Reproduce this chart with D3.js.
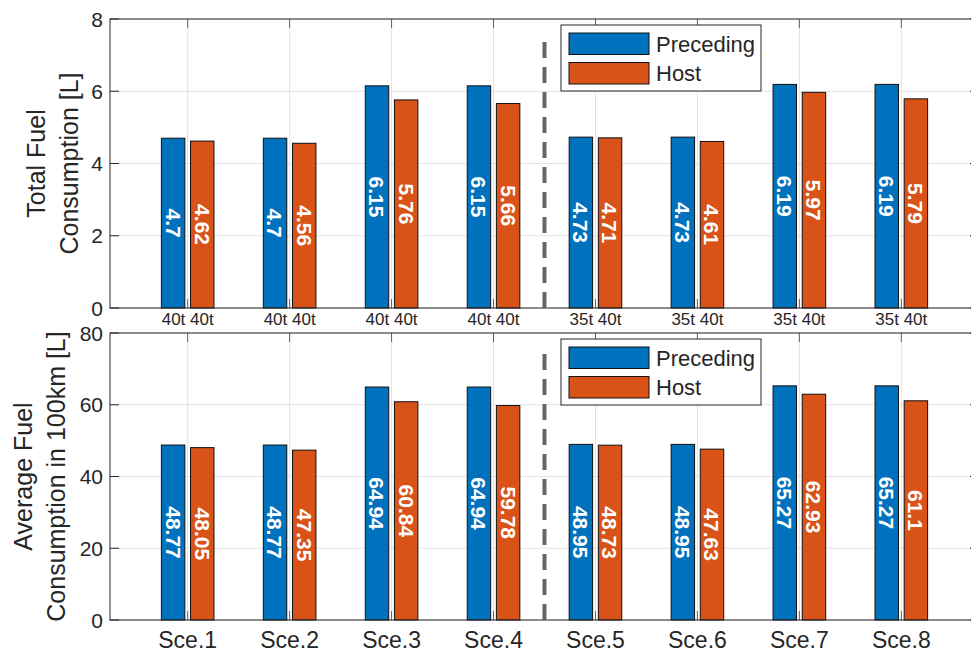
<!DOCTYPE html>
<html>
<head>
<meta charset="utf-8">
<script src="https://cdn.jsdelivr.net/npm/d3@7"></script>
<style>
  body { margin: 0; background: #fff; }
  svg { display: block; font-family: 'Liberation Sans', Arial, sans-serif; }
  .tick-label { fill: #262626; }
  .bar-label { fill: #fff; font-weight: bold; }
</style>
</head>
<body>
<svg id="chart"></svg>
<script>
// chart data
const categories = ['Sce.1', 'Sce.2', 'Sce.3', 'Sce.4', 'Sce.5', 'Sce.6', 'Sce.7', 'Sce.8'];
const weightLabels = ['40t 40t', '40t 40t', '40t 40t', '40t 40t', '35t 40t', '35t 40t', '35t 40t', '35t 40t'];
const seriesNames = ['Preceding', 'Host'];
const totalPreceding = [4.7, 4.7, 6.15, 6.15, 4.73, 4.73, 6.19, 6.19];
const totalHost = [4.62, 4.56, 5.76, 5.66, 4.71, 4.61, 5.97, 5.79];
const avgPreceding = [48.77, 48.77, 64.94, 64.94, 48.95, 48.95, 65.27, 65.27];
const avgHost = [48.05, 47.35, 60.84, 59.78, 48.73, 47.63, 62.93, 61.1];
const totalTicks = [0, 2, 4, 6, 8];
const avgTicks = [0, 20, 40, 60, 80];

const colors = ['#0072BD', '#D95319'];
const axisColor = '#262626';
const gridColor = '#e3e3e3';

const width = 971, height = 655;
const svg = d3.select('#chart').attr('width', width).attr('height', height);

// shared x scale (category index 1..8), right edge runs past the window
const x = d3.scaleLinear().domain([0.238, 8.762]).range([110, 979]);
const barOffset = 0.143, barWidth = 0.23;

const panels = [
  {
    top: 19, bottom: 308, max: 8, ticks: totalTicks,
    series: [totalPreceding, totalHost], xLabels: weightLabels,
    xLabelSize: 17, xLabelY: 325, dashTop: 7.55,
    yTitle: ['Total Fuel', 'Consumption [L]'], yTitleX: [45, 78],
  },
  {
    top: 333, bottom: 620, max: 80, ticks: avgTicks,
    series: [avgPreceding, avgHost], xLabels: categories,
    xLabelSize: 23, xLabelY: 648, dashTop: 75.5,
    yTitle: ['Average Fuel', 'Consumption in 100km [L]'], yTitleX: [32, 65],
  },
];

panels.forEach(p => {
  const y = d3.scaleLinear().domain([0, p.max]).range([p.bottom, p.top]);
  const g = svg.append('g');
  const [x0, x1] = x.range();

  // grid
  g.selectAll('.hgrid').data(p.ticks).enter().append('line')
    .attr('x1', x0).attr('x2', x1)
    .attr('y1', d => y(d)).attr('y2', d => y(d))
    .attr('stroke', gridColor).attr('stroke-width', 1);
  g.selectAll('.vgrid').data(categories).enter().append('line')
    .attr('x1', (d, i) => x(i + 1)).attr('x2', (d, i) => x(i + 1))
    .attr('y1', p.top).attr('y2', p.bottom)
    .attr('stroke', gridColor).attr('stroke-width', 1);

  // tick marks (inside)
  [p.top, p.bottom].forEach((yy, k) => {
    g.selectAll(null).data(categories).enter().append('line')
      .attr('x1', (d, i) => x(i + 1)).attr('x2', (d, i) => x(i + 1))
      .attr('y1', yy).attr('y2', k === 0 ? yy + 9 : yy - 9)
      .attr('stroke', axisColor).attr('stroke-opacity', 0.7).attr('stroke-width', 1);
  });
  [x0, x1].forEach((xx, k) => {
    g.selectAll(null).data(p.ticks).enter().append('line')
      .attr('x1', xx).attr('x2', k === 0 ? xx + 9 : xx - 9)
      .attr('y1', d => y(d)).attr('y2', d => y(d))
      .attr('stroke', axisColor).attr('stroke-width', 1);
  });

  // bars + value labels
  p.series.forEach((vals, s) => {
    const cx = i => x(i + 1 + (s === 0 ? -barOffset : barOffset));
    const bw = x(1 + barWidth) - x(1);
    g.selectAll(null).data(vals).enter().append('rect')
      .attr('x', (d, i) => cx(i) - bw / 2)
      .attr('width', bw)
      .attr('y', d => y(d))
      .attr('height', d => y(0) - y(d))
      .attr('fill', colors[s])
      .attr('stroke', '#111')
      .attr('stroke-width', 1);
    g.selectAll(null).data(vals).enter().append('text')
      .attr('class', 'bar-label')
      .attr('transform', (d, i) => `translate(${cx(i)},${y(d / 2)}) rotate(90)`)
      .attr('text-anchor', 'middle')
      .attr('dy', '0.36em')
      .style('font-size', '21px')
      .text(d => String(d));
  });

  // axes box
  g.append('rect')
    .attr('x', x0).attr('y', p.top)
    .attr('width', x1 - x0).attr('height', p.bottom - p.top)
    .attr('fill', 'none').attr('stroke', axisColor).attr('stroke-width', 1);

  // dashed separator between the 40t and 35t scenarios
  g.append('line')
    .attr('x1', x(4.5)).attr('x2', x(4.5))
    .attr('y1', y(0)).attr('y2', y(p.dashTop))
    .attr('stroke', '#666').attr('stroke-width', 4)
    .attr('stroke-dasharray', '16,9');

  // y tick labels
  g.selectAll(null).data(p.ticks).enter().append('text')
    .attr('class', 'tick-label')
    .attr('x', 103).attr('y', d => y(d))
    .attr('dy', '0.36em')
    .attr('text-anchor', 'end')
    .style('font-size', '21px')
    .text(d => d);

  // x tick labels
  g.selectAll(null).data(p.xLabels).enter().append('text')
    .attr('class', 'tick-label')
    .attr('x', (d, i) => x(i + 1)).attr('y', p.xLabelY)
    .attr('text-anchor', 'middle')
    .style('font-size', p.xLabelSize + 'px')
    .text(d => d);

  // y title, two lines
  p.yTitle.forEach((t, k) => {
    g.append('text')
      .attr('class', 'tick-label')
      .attr('transform', `translate(${p.yTitleX[k]},${(p.top + p.bottom) / 2}) rotate(-90)`)
      .attr('text-anchor', 'middle')
      .style('font-size', '25px')
      .text(t);
  });

  // legend
  const lg = g.append('g').attr('transform', `translate(561,${p.top + 6})`);
  lg.append('rect')
    .attr('width', 200).attr('height', 66)
    .attr('fill', '#fff').attr('stroke', axisColor).attr('stroke-width', 1);
  seriesNames.forEach((name, s) => {
    lg.append('rect')
      .attr('x', 8).attr('y', 8 + s * 29.5)
      .attr('width', 80).attr('height', 21.5)
      .attr('fill', colors[s]).attr('stroke', '#111').attr('stroke-width', 1);
    lg.append('text')
      .attr('class', 'tick-label')
      .attr('x', 95).attr('y', 26.5 + s * 29.5)
      .style('font-size', '22px')
      .text(name);
  });
});
</script>
</body>
</html>
